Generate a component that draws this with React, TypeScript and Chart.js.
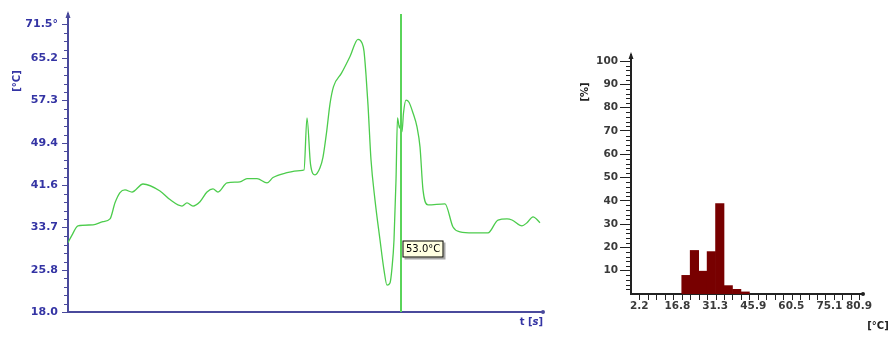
import React, { useEffect, useRef } from 'react';
import { Chart, registerables } from 'chart.js';
Chart.register(...registerables);

// ---------- Left chart: temperature over time ----------
const timeS = [0, 0.8, 2, 5, 7, 8.4, 9.4, 10.4, 11.4, 12.8,
  15, 18.4, 20.4, 22.8, 23.8, 25, 26.4, 27.8, 29, 30,
  31.8, 34.4, 35.8, 37.8, 39.8, 41, 43.8, 46.4, 47.2, 47.8,
  48.5, 49.4, 50.4, 51, 51.7, 52.4, 53.1, 54.7, 56.4, 58,
  58.8, 59.2, 59.6, 60, 60.6, 61.4, 62.4, 63.2, 63.8, 64.4,
  64.8, 65.2, 65.6, 65.9, 66.3, 66.6, 66.8, 67.1, 67.6, 68.2,
  69, 69.8, 70.4, 71, 72, 75.4, 77, 78.4, 81, 84,
  86, 87.8, 88.8, 90.8, 91.8, 93, 94.4];
const tempC = [30.9, 32.3, 34.0, 34.2, 34.8, 35.3, 38.3, 40.2, 40.7, 40.3,
  41.8, 40.5, 38.9, 37.7, 38.3, 37.7, 38.5, 40.3, 40.9, 40.3,
  42.0, 42.2, 42.8, 42.8, 42.0, 43.0, 43.9, 44.3, 44.4, 54.1,
  45.5, 43.5, 44.8, 46.8, 51.3, 56.7, 59.9, 62.4, 65.5, 68.7,
  68.0, 66.5, 62.1, 56.5, 46.3, 38.8, 31.4, 25.8, 23.0, 23.4,
  26.2, 31.4, 42.5, 54.1, 52.2, 53.0, 51.5, 55.0, 57.4, 57.0,
  55.0, 52.4, 48.7, 40.7, 37.9, 38.1, 33.8, 32.9, 32.7, 32.7,
  35.1, 35.3, 35.1, 34.0, 34.6, 35.7, 34.6];
const yTickValues = [18.0, 25.8, 33.7, 41.6, 49.4, 57.3, 65.2, 71.5];
const yTickLabels = ['18.0', '25.8', '33.7', '41.6', '49.4', '57.3', '65.2', '71.5°'];
const timeMin = 0;
const timeMax = 95;
const tempMin = 18;
const tempMax = 73.4;
const cursorT = 66.6;
const cursorLabel = '53.0°C';

// ---------- Right chart: histogram ----------
const histCenters = [20.09, 23.33, 26.58, 29.82, 33.06, 36.31, 39.55, 42.8];
const histPct = [8, 18.7, 9.8, 18.2, 38.8, 3.6, 2, 0.9];
const histXTickValues = [2.2, 16.8, 31.3, 45.9, 60.5, 75.1];
const histXTickLabels = ['2.2', '16.8', '31.3', '45.9', '60.5', '75.1'];
const histXEndLabel = '80.9';
const histYTickValues = [10, 20, 30, 40, 50, 60, 70, 80, 90, 100];
const histXMin = -1.0;
const histXMax = 88;
const histBinWidth = 3.244;

const NAVY = '#4a4a9c';
const NAVY_TXT = '#3434a4';
const GREEN = '#4ccc4c';
const DARK = '#222222';
const LBL = '#3a3a3a';
const FONT = 'DejaVu Sans, Liberation Sans, Arial, sans-serif';

function leftConfig(): any {
  const decor = {
    id: 'leftDecor',
    afterDraw(chart: any) {
      const { ctx, chartArea: a, scales } = chart;
      const x = scales.x, y = scales.y;
      ctx.save();
      // minor ticks
      ctx.strokeStyle = NAVY;
      ctx.lineWidth = 1;
      const minors: number[] = [];
      for (let i = 0; i < 6; i++) {
        const lo = yTickValues[i], hi = yTickValues[i + 1];
        for (let k = 1; k < 5; k++) minors.push(lo + (hi - lo) * k / 5);
      }
      const st = (yTickValues[6] - yTickValues[5]) / 5;
      for (let v = yTickValues[6] + st; v < yTickValues[7] - 0.6; v += st) minors.push(v);
      ctx.beginPath();
      for (const v of minors) {
        const py = Math.round(y.getPixelForValue(v)) + 0.5;
        ctx.moveTo(a.left - 4, py);
        ctx.lineTo(a.left, py);
      }
      ctx.stroke();
      // arrow top of y axis
      ctx.fillStyle = NAVY;
      ctx.beginPath();
      ctx.moveTo(a.left, a.top - 3);
      ctx.lineTo(a.left - 2.5, a.top + 4);
      ctx.lineTo(a.left + 2.5, a.top + 4);
      ctx.closePath();
      ctx.fill();
      // dot at x axis end
      ctx.beginPath();
      ctx.arc(a.right, a.bottom, 2, 0, Math.PI * 2);
      ctx.fill();
      // cursor line
      const px = Math.round(x.getPixelForValue(cursorT));
      ctx.strokeStyle = '#5ad45a';
      ctx.lineWidth = 2;
      ctx.beginPath();
      ctx.moveTo(px, a.top);
      ctx.lineTo(px, a.bottom);
      ctx.stroke();
      // tooltip box
      ctx.font = '10px ' + FONT;
      const tw = ctx.measureText(cursorLabel).width;
      const bx = px + 1.5, by = a.bottom - 71.5, bw = Math.round(tw + 7), bh = 17;
      ctx.fillStyle = '#a8a8a8';
      ctx.fillRect(bx + 2, by + 2, bw, bh);
      ctx.fillStyle = '#ffffe1';
      ctx.fillRect(bx, by, bw, bh);
      ctx.strokeStyle = '#000';
      ctx.lineWidth = 1;
      ctx.strokeRect(bx + 0.5, by + 0.5, bw - 1, bh - 1);
      ctx.fillStyle = '#000';
      ctx.textBaseline = 'middle';
      ctx.textAlign = 'left';
      ctx.fillText(cursorLabel, bx + 3.5, by + bh / 2 + 0.5);
      // y title
      ctx.save();
      ctx.translate(17, 81);
      ctx.rotate(-Math.PI / 2);
      ctx.font = 'bold 10px ' + FONT;
      ctx.fillStyle = NAVY_TXT;
      ctx.textAlign = 'center';
      ctx.textBaseline = 'middle';
      ctx.fillText('[°C]', 0, 0);
      ctx.restore();
      // x title "t [s]"
      const parts = [
        { t: 't [', f: 'bold 10px ' + FONT },
        { t: 's', f: 'italic bold 10px ' + FONT },
        { t: ']', f: 'bold 10px ' + FONT },
      ];
      let total = 0;
      for (const p of parts) { ctx.font = p.f; total += ctx.measureText(p.t).width; }
      let cx = a.right - total;
      ctx.fillStyle = NAVY_TXT;
      ctx.textAlign = 'left';
      ctx.textBaseline = 'middle';
      for (const p of parts) {
        ctx.font = p.f;
        ctx.fillText(p.t, cx, a.bottom + 10.5);
        cx += ctx.measureText(p.t).width;
      }
      ctx.restore();
    },
  };
  return {
    type: 'line',
    data: {
      datasets: [{
        data: timeS.map((t, i) => ({ x: t, y: tempC[i] })),
        borderColor: GREEN,
        borderWidth: 1.3,
        pointRadius: 0,
        cubicInterpolationMode: 'monotone',
        fill: false,
      }],
    },
    options: {
      animation: false,
      responsive: false,
      maintainAspectRatio: false,
      events: [],
      layout: { padding: { left: 0, top: 14, right: 17, bottom: 0 } },
      plugins: { legend: { display: false }, tooltip: { enabled: false } },
      scales: {
        x: {
          type: 'linear', min: timeMin, max: timeMax, offset: false,
          ticks: { display: false },
          grid: { display: false, drawTicks: false },
          border: { display: true, color: NAVY, width: 2 },
          afterFit(s: any) { s.height = 26; },
        },
        y: {
          type: 'linear', min: tempMin, max: tempMax,
          afterBuildTicks(s: any) { s.ticks = yTickValues.map((v) => ({ value: v })); },
          ticks: {
            autoSkip: false,
            callback: (_v: any, i: number) => yTickLabels[i],
            color: NAVY_TXT,
            font: { family: FONT, size: 11, weight: 'bold' },
            padding: 4,
          },
          grid: { drawOnChartArea: false, tickLength: 6, tickColor: NAVY, tickWidth: 1 },
          border: { display: true, color: NAVY, width: 2 },
          afterFit(s: any) { s.width = 68; },
        },
      },
    },
    plugins: [decor],
  };
}

function rightConfig(): any {
  const decor = {
    id: 'rightDecor',
    afterDraw(chart: any) {
      const { ctx, chartArea: a, scales } = chart;
      const x = scales.x, y = scales.y;
      ctx.save();
      ctx.strokeStyle = DARK;
      ctx.lineWidth = 1;
      ctx.beginPath();
      // minor y ticks
      for (let v = 2; v <= 100; v += 2) {
        if (v % 10 === 0) continue;
        const py = Math.round(y.getPixelForValue(v)) + 0.5;
        ctx.moveTo(a.left - 5, py);
        ctx.lineTo(a.left, py);
      }
      // bin ticks on x axis
      for (let v = histXMin + histBinWidth; v < histXMax - 0.5; v += histBinWidth) {
        const pxv = Math.round(x.getPixelForValue(v)) + 0.5;
        ctx.moveTo(pxv, a.bottom);
        ctx.lineTo(pxv, a.bottom + 6);
      }
      ctx.stroke();
      // arrow / dot ends
      ctx.fillStyle = DARK;
      ctx.beginPath();
      ctx.moveTo(a.left, a.top - 3);
      ctx.lineTo(a.left - 2.5, a.top + 4);
      ctx.lineTo(a.left + 2.5, a.top + 4);
      ctx.closePath();
      ctx.fill();
      ctx.beginPath();
      ctx.arc(a.right, a.bottom, 2, 0, Math.PI * 2);
      ctx.fill();
      // end label
      ctx.font = 'bold 10.5px ' + FONT;
      ctx.fillStyle = LBL;
      ctx.textAlign = 'center';
      ctx.textBaseline = 'middle';
      ctx.fillText(histXEndLabel, a.right - 4, a.bottom + 12.5);
      // titles
      ctx.font = 'bold 10px ' + FONT;
      ctx.fillStyle = DARK;
      ctx.fillText('[°C]', 318, 326.5);
      ctx.save();
      ctx.translate(25, 92);
      ctx.rotate(-Math.PI / 2);
      ctx.fillText('[%]', 0, 0);
      ctx.restore();
      ctx.restore();
    },
  };
  return {
    type: 'bar',
    data: {
      datasets: [{
        data: histCenters.map((c, i) => ({ x: c, y: histPct[i] })),
        backgroundColor: '#780000',
        borderWidth: 0,
        barPercentage: 1,
        categoryPercentage: 1,
      }],
    },
    options: {
      animation: false,
      responsive: false,
      maintainAspectRatio: false,
      events: [],
      layout: { padding: { left: 0, top: 55, right: 29, bottom: 0 } },
      plugins: { legend: { display: false }, tooltip: { enabled: false } },
      scales: {
        x: {
          type: 'linear', min: histXMin, max: histXMax, offset: false,
          afterBuildTicks(s: any) { s.ticks = histXTickValues.map((v) => ({ value: v })); },
          ticks: {
            autoSkip: false, maxRotation: 0,
            callback: (_v: any, i: number) => histXTickLabels[i],
            color: LBL,
            font: { family: FONT, size: 10.5, weight: 'bold' },
            padding: 0,
          },
          grid: { drawOnChartArea: false, tickLength: 6, tickColor: 'rgba(0,0,0,0)' },
          border: { display: true, color: DARK, width: 2 },
          afterFit(s: any) { s.height = 44; },
        },
        y: {
          type: 'linear', min: 0, max: 102.6,
          afterBuildTicks(s: any) { s.ticks = histYTickValues.map((v) => ({ value: v })); },
          ticks: {
            autoSkip: false,
            callback: (v: any) => String(v),
            color: LBL,
            font: { family: FONT, size: 10.5, weight: 'bold' },
            padding: 2,
          },
          grid: { drawOnChartArea: false, tickLength: 11, tickColor: DARK },
          border: { display: true, color: DARK, width: 2 },
          afterFit(s: any) { s.width = 71; },
        },
      },
    },
    plugins: [decor],
  };
}

export default function App() {
  const leftRef = useRef<HTMLCanvasElement>(null);
  const rightRef = useRef<HTMLCanvasElement>(null);
  useEffect(() => {
    const c1 = new Chart(leftRef.current as HTMLCanvasElement, leftConfig());
    const c2 = new Chart(rightRef.current as HTMLCanvasElement, rightConfig());
    return () => { c1.destroy(); c2.destroy(); };
  }, []);
  return (
    <div style={{ position: 'fixed', left: 0, top: 0, width: 892, height: 338, background: '#fff', overflow: 'hidden' }}>
      <canvas ref={leftRef} width={560} height={338} style={{ position: 'absolute', left: 0, top: 0, width: 560, height: 338 }} />
      <canvas ref={rightRef} width={332} height={338} style={{ position: 'absolute', left: 560, top: 0, width: 332, height: 338 }} />
    </div>
  );
}
